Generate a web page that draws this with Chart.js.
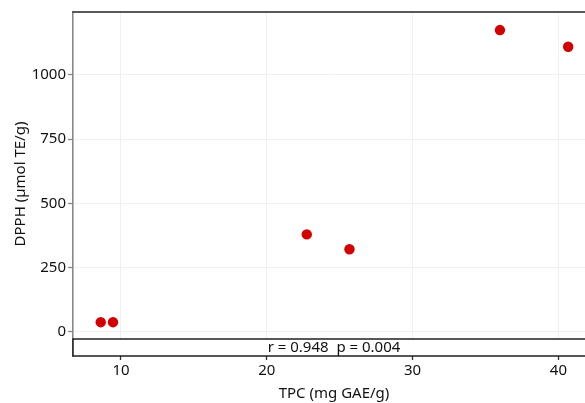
<!DOCTYPE html>
<html>
<head>
<meta charset="utf-8">
<script src="https://cdn.jsdelivr.net/npm/chart.js@4"></script>
<style>
  html, body { margin: 0; padding: 0; background: #fff; overflow: hidden; }
  #wrap { width: 610px; height: 403px; position: relative; }
</style>
</head>
<body>
<div id="wrap"><canvas id="c"></canvas></div>
<script>
// Data
const tpc = [8.61, 9.45, 22.74, 25.67, 35.99, 40.67];
const dpph = [37, 37, 379, 321, 1175, 1110];
const xTicks = [10, 20, 30, 40];
const yTicks = [0, 250, 500, 750, 1000];
const stripLabel = 'r = 0.948  p = 0.004';
const xTitle = 'TPC (mg GAE/g)';
const yTitle = 'DPPH (µmol TE/g)';

const FONT = "'Noto Sans', 'Open Sans', 'DejaVu Sans', sans-serif";

const stripPlugin = {
  id: 'strip',
  afterDraw(chart) {
    const ctx = chart.ctx;
    const a = chart.chartArea;
    ctx.save();
    // top border of the panel
    ctx.strokeStyle = '#222';
    ctx.lineWidth = 1.6;
    ctx.beginPath();
    ctx.moveTo(a.left - 0.5, a.top);
    ctx.lineTo(a.right + 20, a.top);
    ctx.stroke();
    // bottom strip
    const h = 17;
    const top = a.bottom - h;
    ctx.fillStyle = '#fff';
    ctx.fillRect(a.left, top, a.right - a.left + 20, h);
    ctx.strokeStyle = '#111';
    ctx.lineWidth = 1.4;
    ctx.strokeRect(a.left, top, a.right - a.left, h);
    ctx.fillStyle = '#111';
    ctx.font = '15px ' + FONT;
    ctx.textAlign = 'center';
    ctx.textBaseline = 'middle';
    ctx.fillText(stripLabel, (a.left + a.right) / 2, top + h / 2 + 0.5);
    ctx.restore();
  }
};

new Chart(document.getElementById('c'), {
  type: 'scatter',
  data: {
    datasets: [{
      data: tpc.map((x, i) => ({ x: x, y: dpph[i] })),
      backgroundColor: '#d40000',
      borderColor: '#d40000',
      pointRadius: 5.2,
      pointHoverRadius: 5.2,
      borderWidth: 0
    }]
  },
  options: {
    responsive: true,
    maintainAspectRatio: false,
    animation: false,
    layout: { padding: { top: 12, right: 15, left: 0, bottom: 0 } },
    plugins: { legend: { display: false }, tooltip: { enabled: false } },
    scales: {
      x: {
        type: 'linear',
        min: 6.708,
        max: 42.51,
        afterBuildTicks: (s) => { s.ticks = xTicks.map(v => ({ value: v })); },
        afterFit: (s) => { s.height = 47; },
        grid: { color: '#f0f0f0', lineWidth: 1, drawTicks: true, tickLength: 4, tickColor: '#333', tickWidth: 1.3 },
        border: { display: false },
        ticks: { font: { family: FONT, size: 15 }, color: '#111', padding: 2, maxRotation: 0, callback: (v) => String(v) },
        title: { display: true, text: xTitle, font: { family: FONT, size: 15 }, color: '#111', padding: { top: 2, bottom: 0 } }
      },
      y: {
        type: 'linear',
        min: -94.7,
        max: 1245.4,
        afterBuildTicks: (s) => { s.ticks = yTicks.map(v => ({ value: v })); },
        afterFit: (s) => { s.width = 73; },
        grid: { color: '#f0f0f0', lineWidth: 1, drawTicks: true, tickLength: 5, tickColor: '#888', tickWidth: 1.3 },
        border: { display: true, color: '#888', width: 1.6 },
        ticks: { font: { family: FONT, size: 15 }, color: '#111', padding: 2, callback: (v) => String(v) },
        title: { display: true, text: yTitle, font: { family: FONT, size: 15 }, color: '#111', padding: { top: 12, bottom: 0 } }
      }
    }
  },
  plugins: [stripPlugin]
});
</script>
</body>
</html>
